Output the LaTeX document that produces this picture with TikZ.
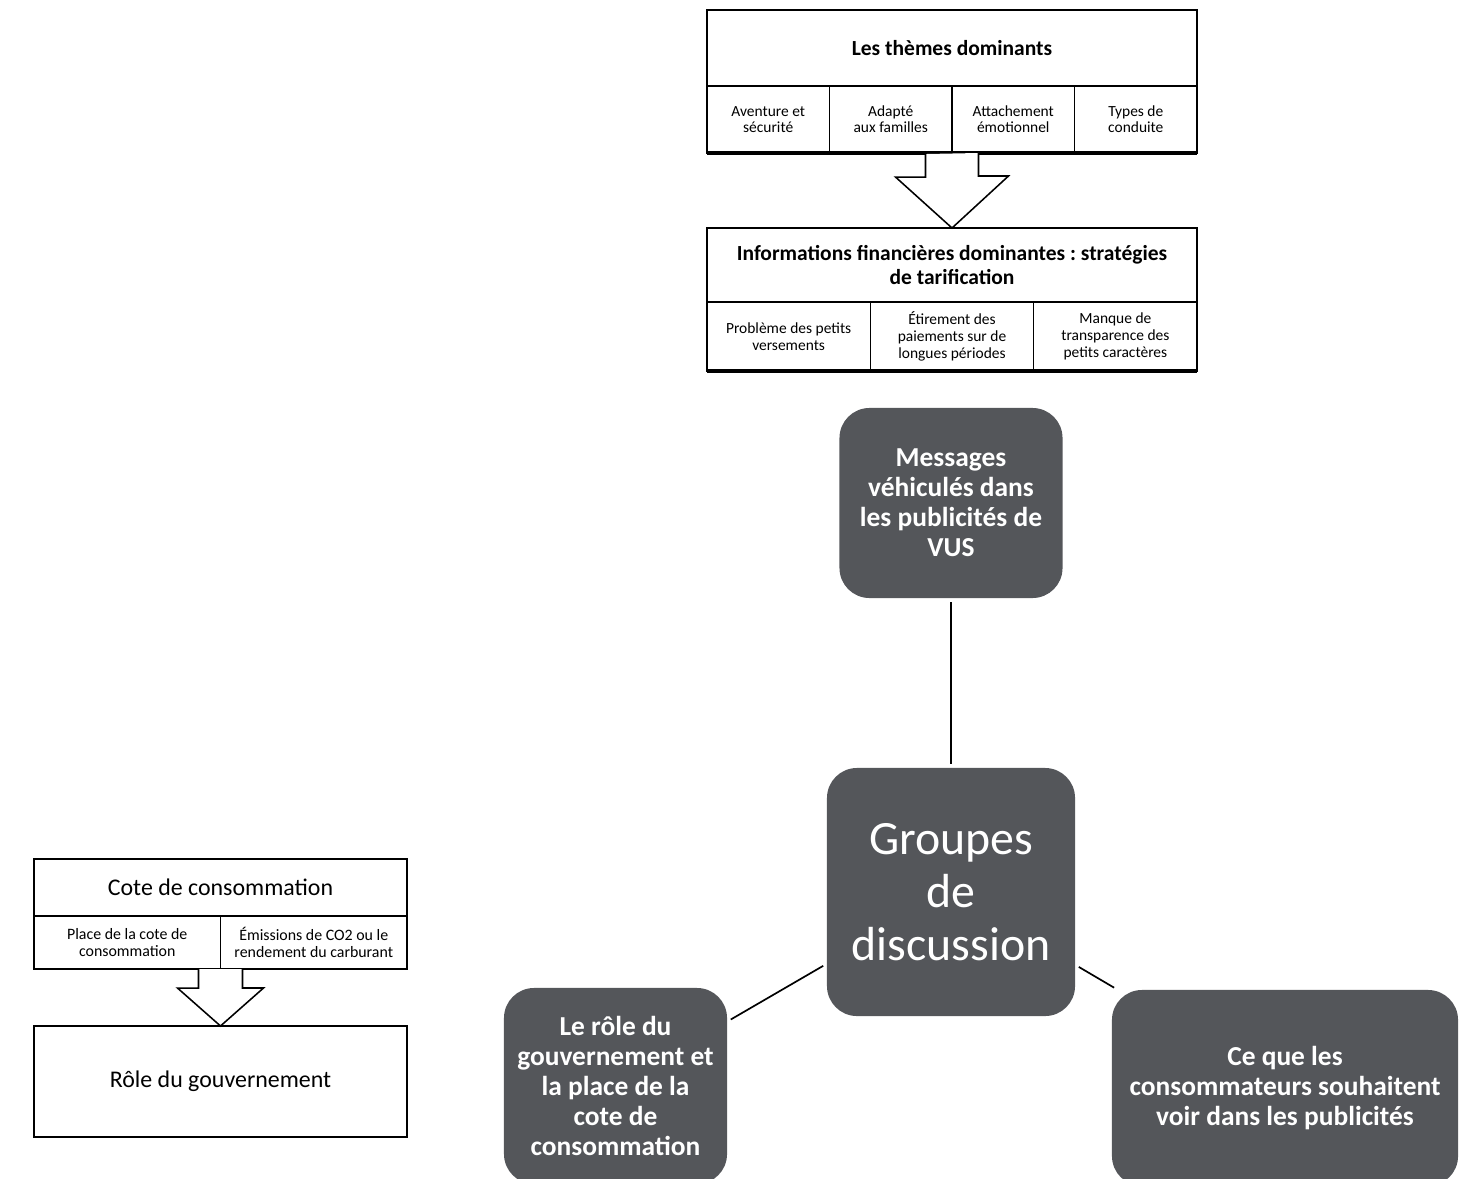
\documentclass[tikz,border=0pt]{standalone}
\usepackage{fontspec}
\setmainfont{Carlito}
\usetikzlibrary{positioning}
\definecolor{bubblegray}{RGB}{84,86,90}
\frenchspacing

\begin{document}
\begin{tikzpicture}[
    x=0.025cm, y=-0.025cm,
    node distance=0pt,
    tabhead/.style = {rectangle, draw, line width=1.1pt, outer sep=0pt, inner sep=2pt, align=center, font=\bfseries\fontsize{15.3}{16.5}\selectfont},
    themecell/.style = {rectangle, draw, line width=1.1pt, outer sep=0pt, inner sep=1pt, align=center, minimum width=3.0625cm, minimum height=1.675cm, font=\fontsize{11}{11.5}\selectfont},
    financecell/.style = {themecell, minimum width=4.0833cm, minimum height=1.725cm, font=\fontsize{11}{12.3}\selectfont},
    cotecell/.style = {themecell, minimum width=4.6625cm, minimum height=1.325cm, font=\fontsize{11.3}{12}\selectfont},
    bigarrow/.style = {draw, line width=1.1pt, fill=white},
    bubble/.style = {rectangle, rounded corners=7.5mm, fill=bubblegray, text=white, align=center, font=\bfseries\fontsize{19.5}{21.3}\selectfont},
    link/.style = {line width=1.2pt, shorten >=0.1cm, shorten <=0.1cm}]

    \path[use as bounding box] (0,0) rectangle (1460,1178);
    \clip (0,0) rectangle (1460,1178);

    % themes table
    \node[tabhead, minimum width=12.25cm, minimum height=1.9cm] (themes) at (952,48) {Les thèmes dominants};
    \node[themecell, below right=of themes.south west] (t1) {Aventure et\\sécurité};
    \node[themecell, right=of t1] (t2) {Adapté\\aux familles};
    \node[themecell, right=of t2] (t3) {Attachement\\émotionnel};
    \node[themecell, right=of t3] (t4) {Types de\\conduite};
    \draw[line width=2.4pt] (t1.south west) -- (t4.south east);

    % finance table
    \node[tabhead, minimum width=12.25cm, minimum height=1.85cm] (finance) at (952,265) {Informations financières dominantes : stratégies\\de tarification};
    \node[financecell, below right=of finance.south west] (f1) {Problème des petits\\versements};
    \node[financecell, right=of f1] (f2) {Étirement des\\paiements sur de\\longues périodes};
    \node[financecell, right=of f2] (f3) {Manque de\\transparence des\\petits caractères};
    \draw[line width=2.4pt] (f1.south west) -- (f3.south east);

    \draw[bigarrow] ([shift={(-26.5,1)}]themes.south |- t2.south east) -- ++(0,23) -- ++(-30,0)
        -- (finance.north) -- ++(56.5,-52) -- ++(-30,0) -- ++(0,-23);

    % cote table
    \node[tabhead, minimum width=9.325cm, minimum height=1.425cm, font=\fontsize{17}{19}\selectfont] (cote) at (220.5,887.5) {Cote de consommation};
    \node[cotecell, below right=of cote.south west] (c1) {Place de la cote de\\consommation};
    \node[cotecell, right=of c1] (c2) {Émissions de CO2 ou le\\rendement du carburant};
    \node[tabhead, minimum width=9.325cm, minimum height=2.775cm, font=\fontsize{17}{19}\selectfont] (role) at (220.5,1081.5) {Rôle du gouvernement};

    \draw[bigarrow] ([shift={(-22,0)}]c1.south east) -- ++(0,19) -- ++(-21,0)
        -- (role.north) -- ++(43,-38) -- ++(-21,0) -- ++(0,-19);

    % discussion map
    \node[bubble, minimum width=5.575cm, minimum height=4.75cm] (messages) at (951,503) {Messages\\véhiculés dans\\les publicités de\\VUS};
    \node[bubble, minimum width=6.2cm, minimum height=6.2cm, font=\fontsize{34}{37.5}\selectfont] (groupes) at (951,892) {Groupes\\de\\discussion};
    \node[bubble, minimum width=5.575cm, minimum height=4.9cm] (gouv) at (615.5,1086) {Le rôle du\\gouvernement et\\la place de la\\cote de\\consommation};
    \node[bubble, minimum width=8.65cm, minimum height=4.9cm] (souhaits) at (1285,1088) {Ce que les\\consommateurs souhaitent\\voir dans les publicités};

    \draw[link] (messages) -- (groupes);
    \draw[link] (groupes) -- (gouv);
    \draw[link] (groupes) -- (souhaits);
\end{tikzpicture}
\end{document}
